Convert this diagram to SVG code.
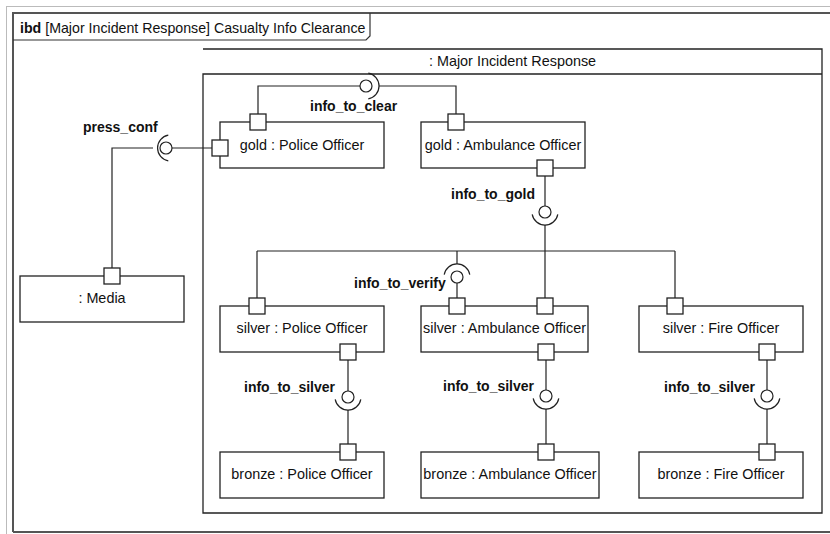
<svg xmlns="http://www.w3.org/2000/svg" width="830" height="534" viewBox="0 0 830 534">
<style>
text{font-family:"Liberation Sans",Arial,sans-serif;font-size:14.4px;fill:#111}
.lbl{font-weight:bold;font-size:14px}
.ttl{font-size:14.2px}
.box{fill:#fff;stroke:#222;stroke-width:1.3}
.port{fill:#fff;stroke:#222;stroke-width:1.3}
.ln{fill:none;stroke:#222;stroke-width:1.2}
.ball{fill:#fff;stroke:#222;stroke-width:1.2}
</style>
<rect x="0" y="0" width="830" height="534" fill="#fff"/>
<g id="frame">
<line x1="6.5" y1="6" x2="6.5" y2="534" stroke="#bbb" stroke-width="1"/>
<line x1="6" y1="6.5" x2="830" y2="6.5" stroke="#bbb" stroke-width="1"/>
<path d="M13,532 V13 H830 M13,532 H830" fill="none" stroke="#555" stroke-width="2"/>
<path d="M13,40 H366 L370,36 V13" fill="none" stroke="#333" stroke-width="1.2"/>
<text class="ttl" x="20" y="33"><tspan font-weight="bold">ibd</tspan> [Major Incident Response] Casualty Info Clearance</text>
</g>
<g id="major-incident-response">
<path d="M203,49 H822 V513 H203 V74 H822" fill="none" stroke="#222" stroke-width="1.3"/>
<text x="512.5" y="66" text-anchor="middle">: Major Incident Response</text>
</g>
<g id="connectors">
<path class="ln" d="M212,148 H172 M153,148 H112 V268"/>
<path class="ln" d="M168.3,135.2 A13,13 0 0 0 168.3,160.8"/>
<circle class="ball" cx="166" cy="148" r="6"/>
<text class="lbl" x="83" y="132">press_conf</text>
<path class="ln" d="M258,114 V86 H360 M379,86 H456 V114"/>
<path class="ln" d="M368.3,73.2 A13,13 0 0 1 368.3,98.8"/>
<circle class="ball" cx="366" cy="86" r="6"/>
<text class="lbl" x="310" y="111">info_to_clear</text>
<path class="ln" d="M545,176 V206 M545,225 V251 M257,251 H675 M257,251 V298 M545,251 V298 M675,251 V298 M457,251 V264 M457,283 V298"/>
<path class="ln" d="M532.2,214.3 A13,13 0 0 0 557.8,214.3"/>
<circle class="ball" cx="545" cy="212" r="6"/>
<text class="lbl" x="451" y="199">info_to_gold</text>
<path class="ln" d="M444.2,274.7 A13,13 0 0 1 469.8,274.7"/>
<circle class="ball" cx="457" cy="277" r="6"/>
<text class="lbl" x="354" y="288">info_to_verify</text>
<path class="ln" d="M348,360 V391 M348,410 V444"/>
<path class="ln" d="M335.2,399.3 A13,13 0 0 0 360.8,399.3"/>
<circle class="ball" cx="348" cy="397" r="6"/>
<text class="lbl" x="244" y="392">info_to_silver</text>
<path class="ln" d="M546,360 V390 M546,409 V444"/>
<path class="ln" d="M533.2,398.3 A13,13 0 0 0 558.8,398.3"/>
<circle class="ball" cx="546" cy="396" r="6"/>
<text class="lbl" x="443" y="391">info_to_silver</text>
<path class="ln" d="M767,360 V390 M767,409 V444"/>
<path class="ln" d="M754.2,398.3 A13,13 0 0 0 779.8,398.3"/>
<circle class="ball" cx="767" cy="396" r="6"/>
<text class="lbl" x="664" y="392">info_to_silver</text>
</g>
<g id="gold-police">
<rect class="box" x="220" y="122" width="164" height="46"/>
<text x="302" y="150" text-anchor="middle">gold : Police Officer</text>
<rect class="port" x="250" y="114" width="16" height="16"/>
<rect class="port" x="212" y="140" width="16" height="16"/>
</g>
<g id="gold-ambulance">
<rect class="box" x="421" y="122" width="164" height="46"/>
<text x="503" y="150" text-anchor="middle">gold : Ambulance Officer</text>
<rect class="port" x="448" y="114" width="16" height="16"/>
<rect class="port" x="537" y="160" width="16" height="16"/>
</g>
<g id="media">
<rect class="box" x="20" y="276" width="164" height="46"/>
<text x="102" y="303" text-anchor="middle">: Media</text>
<rect class="port" x="104" y="268" width="16" height="16"/>
</g>
<g id="silver-police">
<rect class="box" x="220" y="306" width="164" height="46"/>
<text x="302" y="333" text-anchor="middle">silver : Police Officer</text>
<rect class="port" x="249" y="298" width="16" height="16"/>
<rect class="port" x="340" y="344" width="16" height="16"/>
</g>
<g id="silver-ambulance">
<rect class="box" x="421" y="306" width="167" height="46"/>
<text x="504.5" y="333" text-anchor="middle">silver : Ambulance Officer</text>
<rect class="port" x="449" y="298" width="16" height="16"/>
<rect class="port" x="537" y="298" width="16" height="16"/>
<rect class="port" x="538" y="344" width="16" height="16"/>
</g>
<g id="silver-fire">
<rect class="box" x="639" y="306" width="164" height="46"/>
<text x="721" y="333" text-anchor="middle">silver : Fire Officer</text>
<rect class="port" x="667" y="298" width="16" height="16"/>
<rect class="port" x="759" y="344" width="16" height="16"/>
</g>
<g id="bronze-police">
<rect class="box" x="220" y="452" width="164" height="46"/>
<text x="302" y="479" text-anchor="middle">bronze : Police Officer</text>
<rect class="port" x="340" y="444" width="16" height="16"/>
</g>
<g id="bronze-ambulance">
<rect class="box" x="421" y="452" width="178" height="46"/>
<text x="510" y="479" text-anchor="middle">bronze : Ambulance Officer</text>
<rect class="port" x="538" y="444" width="16" height="16"/>
</g>
<g id="bronze-fire">
<rect class="box" x="639" y="452" width="164" height="46"/>
<text x="721" y="479" text-anchor="middle">bronze : Fire Officer</text>
<rect class="port" x="759" y="444" width="16" height="16"/>
</g>
</svg>
